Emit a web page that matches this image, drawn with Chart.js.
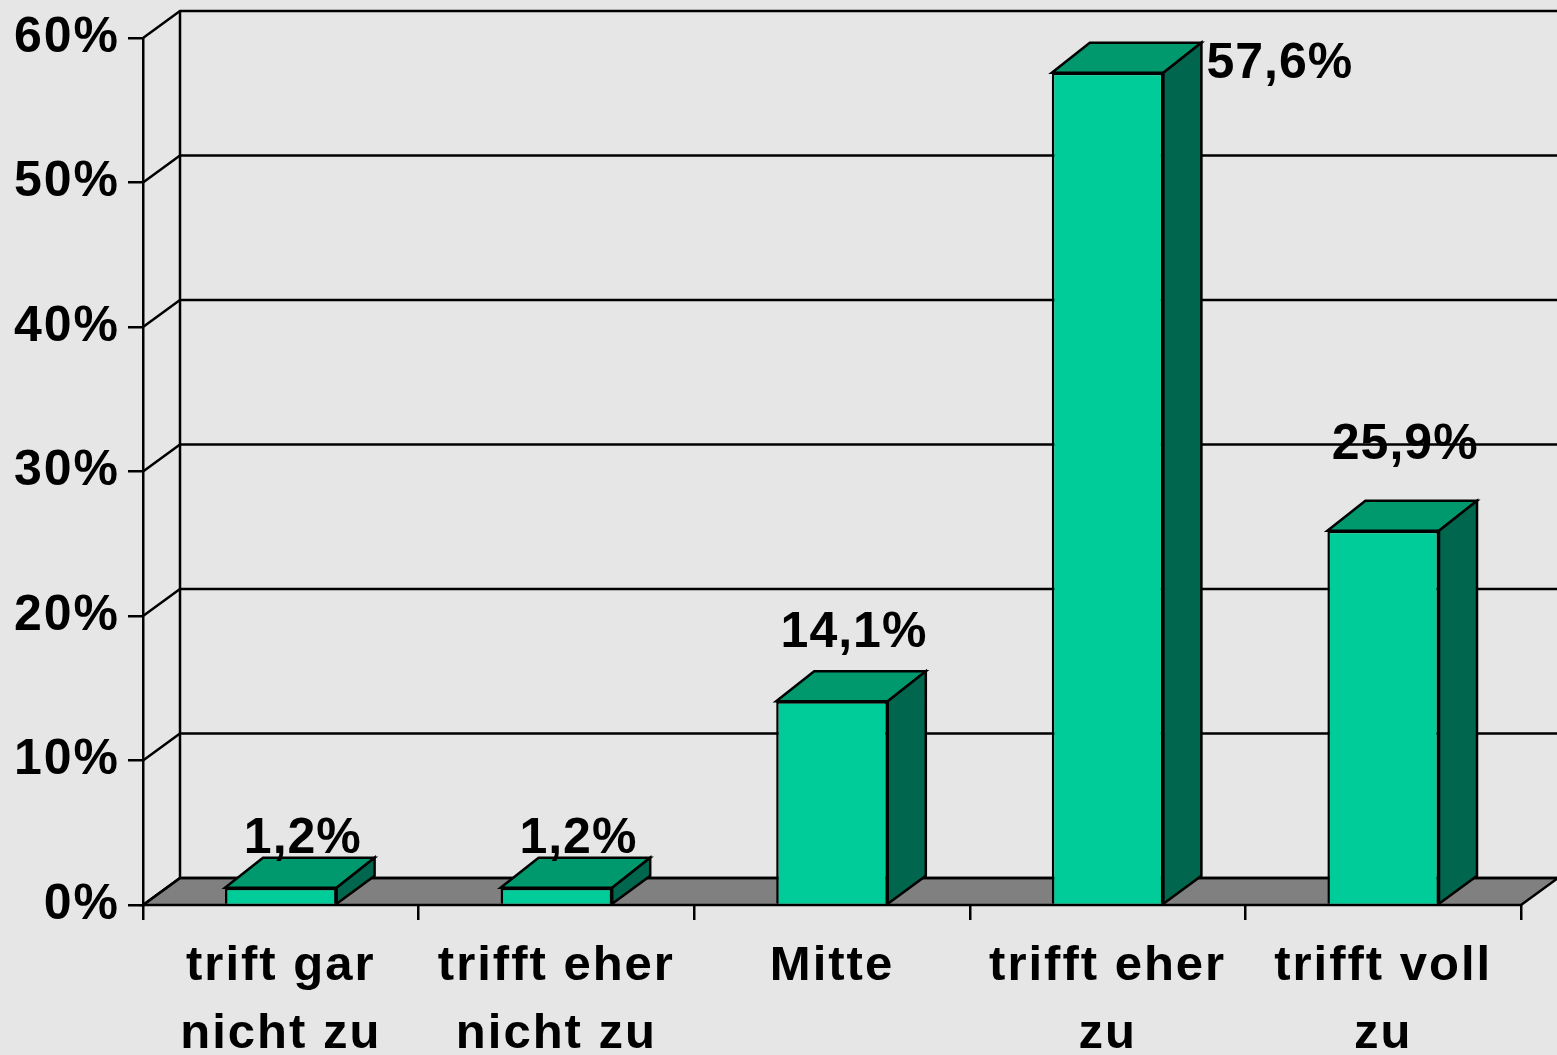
<!DOCTYPE html>
<html>
<head>
<meta charset="utf-8">
<script src="https://cdn.jsdelivr.net/npm/chart.js@4/dist/chart.umd.min.js"></script>
<style>
  html, body { margin: 0; padding: 0; background: #e6e6e6; overflow: hidden; }
  #wrap { width: 1557px; height: 1055px; position: relative; }
</style>
</head>
<body>
<div id="wrap"><canvas id="chart"></canvas></div>
<script>
const categories = [
  ["trift gar", "nicht zu"],
  ["trifft eher", "nicht zu"],
  ["Mitte"],
  ["trifft eher", "zu"],
  ["trifft voll", "zu"],
];
const values = [1.2, 1.2, 14.1, 57.6, 25.9];
const yMax = 60;
const yStep = 10;

// depth of the back wall / floor and of the bars
const WX = 37, WY = 27;
const BX = 38, BY = 30;
const LW = 2.5;

const FONT = "'Liberation Sans', Arial, sans-serif";

function fmt(v) {
  return v.toFixed(1).replace(".", ",") + "%";
}

function poly(ctx, pts, fill) {
  ctx.beginPath();
  ctx.moveTo(pts[0][0], pts[0][1]);
  for (let i = 1; i < pts.length; i++) ctx.lineTo(pts[i][0], pts[i][1]);
  ctx.closePath();
  ctx.fillStyle = fill;
  ctx.fill();
  ctx.stroke();
}

const depthPlugin = {
  id: "depth",
  beforeDraw(chart) {
    // excel-ish wide lettering for the axis labels
    chart.ctx.letterSpacing = "2px";
  },
  beforeDatasetsDraw(chart) {
    const { ctx, chartArea: a } = chart;
    const y = chart.scales.y;
    ctx.save();
    ctx.strokeStyle = "#000";
    ctx.lineWidth = LW;
    ctx.lineJoin = "miter";

    // floor
    poly(ctx, [
      [a.left, a.bottom],
      [a.left + WX, a.bottom - WY],
      [a.right + WX, a.bottom - WY],
      [a.right, a.bottom],
    ], "#808080");

    // side wall diagonals and back wall grid lines
    y.ticks.forEach((t) => {
      const py = y.getPixelForValue(t.value);
      ctx.beginPath();
      ctx.moveTo(a.left, py);
      ctx.lineTo(a.left + WX, py - WY);
      ctx.lineTo(a.right + WX, py - WY);
      ctx.stroke();
    });

    // back wall vertical edge
    ctx.beginPath();
    ctx.moveTo(a.left + WX, y.getPixelForValue(yMax) - WY);
    ctx.lineTo(a.left + WX, a.bottom - WY);
    ctx.stroke();
    ctx.restore();
  },
  afterDatasetsDraw(chart) {
    const { ctx } = chart;
    const meta = chart.getDatasetMeta(0);
    ctx.save();
    ctx.strokeStyle = "#000";
    ctx.lineWidth = LW;
    ctx.letterSpacing = "1px";

    meta.data.forEach((bar, i) => {
      const { x, y, base, width } = bar.getProps(["x", "y", "base", "width"], true);
      const l = x - width / 2;
      const r = x + width / 2;

      // top face
      poly(ctx, [[l, y], [l + BX, y - BY], [r + BX, y - BY], [r, y]], "#00996e");
      // side face
      poly(ctx, [[r, y], [r + BX, y - BY], [r + BX, base - WY - 1], [r, base]], "#00664d");

      // value label
      ctx.fillStyle = "#000";
      ctx.font = "bold 50px " + FONT;
      ctx.textBaseline = "alphabetic";
      let ly = y - BY - (3 + 1.5 * values[i]);
      if (ly - 36 < 0) {
        ctx.textAlign = "left";
        ctx.fillText(fmt(values[i]), r + BX + 5, y + 5);
      } else {
        ctx.textAlign = "center";
        ctx.fillText(fmt(values[i]), x + BX / 2 + 3, ly);
      }
    });
    ctx.restore();
  },
};

const ctx = document.getElementById("chart").getContext("2d");

new Chart(ctx, {
  type: "bar",
  data: {
    labels: categories,
    datasets: [
      {
        data: values,
        backgroundColor: "#00cc99",
        borderColor: "#000",
        borderWidth: 2.5,
        categoryPercentage: 1,
        barPercentage: 0.405,
      },
    ],
  },
  options: {
    responsive: true,
    maintainAspectRatio: false,
    animation: false,
    layout: { padding: { top: 37, right: 36, left: 0, bottom: 0 } },
    plugins: {
      legend: { display: false },
      tooltip: { enabled: false },
    },
    scales: {
      x: {
        grid: {
          offset: true,
          drawOnChartArea: false,
          drawTicks: true,
          tickLength: 15,
          color: "#000",
          lineWidth: LW,
        },
        border: { display: false },
        ticks: {
          color: "#000",
          font: { family: FONT, size: 49, weight: "bold", lineHeight: 1.4 },
          padding: 12,
          maxRotation: 0,
          autoSkip: false,
        },
        afterFit(scale) {
          scale.height = 150;
        },
      },
      y: {
        min: 0,
        max: yMax,
        grid: {
          drawOnChartArea: false,
          drawTicks: true,
          tickLength: 15,
          color: "#000",
          lineWidth: LW,
        },
        border: { display: true, color: "#000", width: LW },
        ticks: {
          stepSize: yStep,
          color: "#000",
          padding: 8,
          font: { family: FONT, size: 50, weight: "bold" },
          callback: (v) => v + "%",
        },
        afterFit(scale) {
          scale.width = 143;
        },
      },
    },
  },
  plugins: [depthPlugin],
});
</script>
</body>
</html>
